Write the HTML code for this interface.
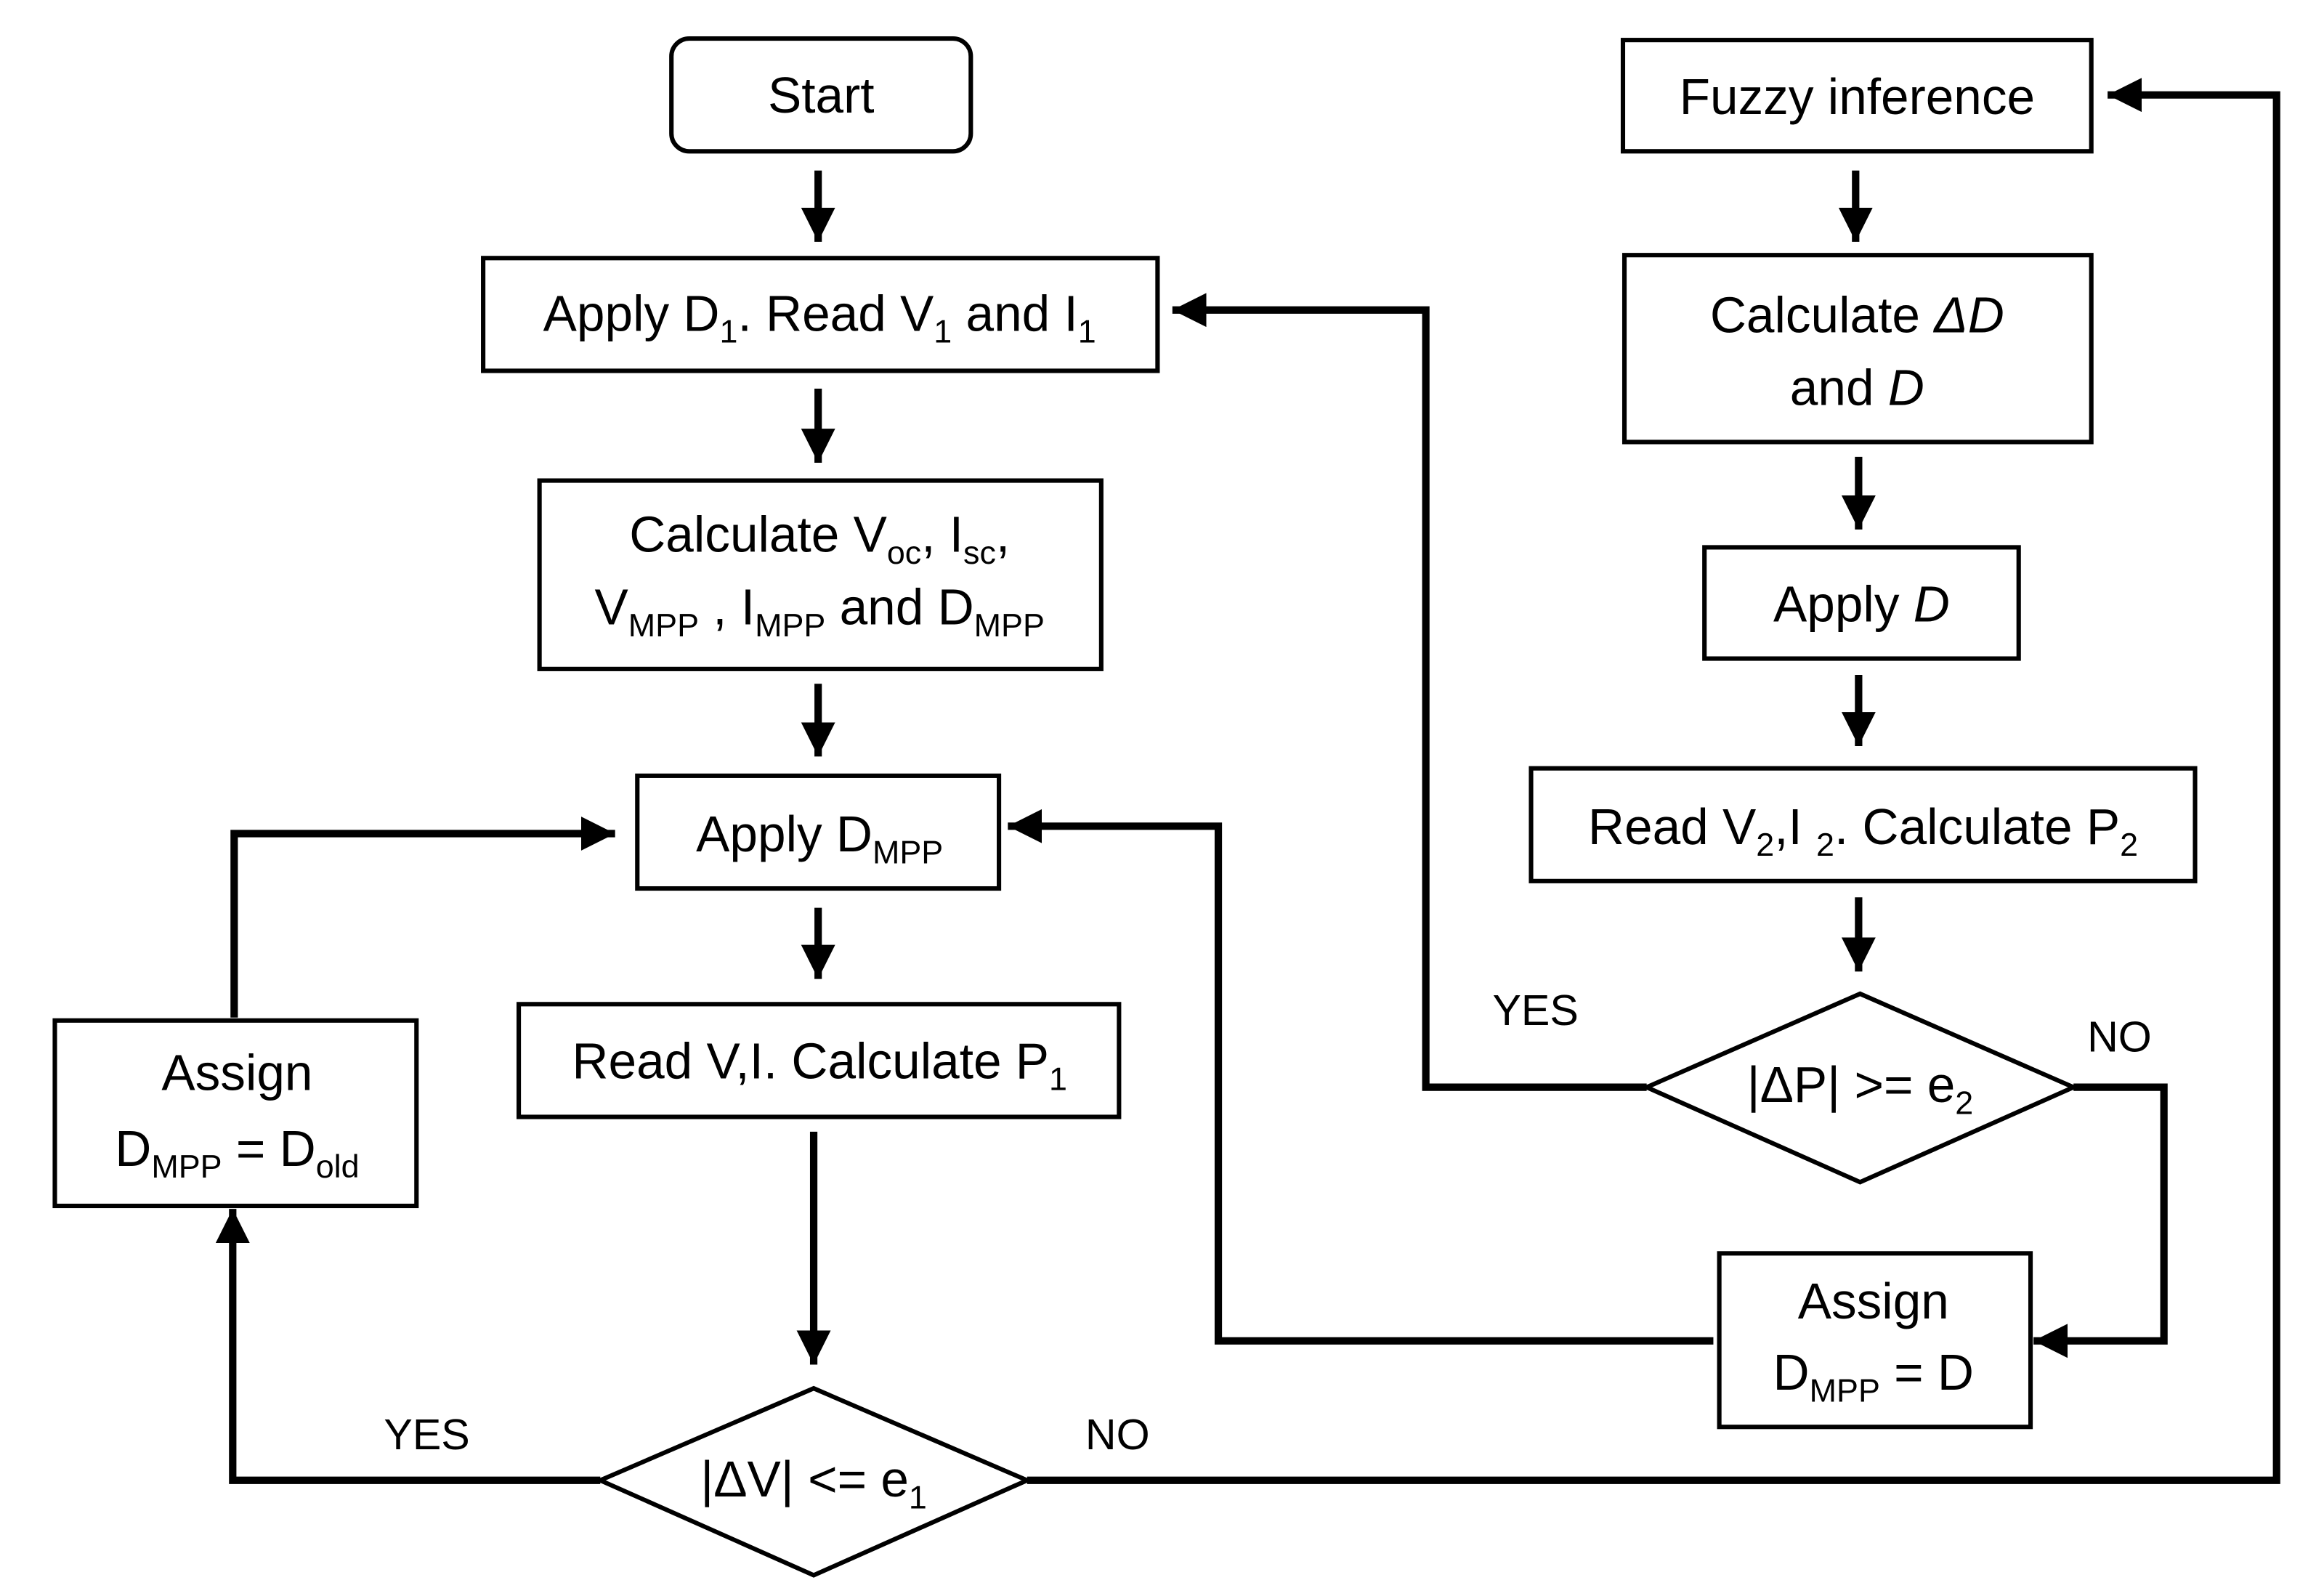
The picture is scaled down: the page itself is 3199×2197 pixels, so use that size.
<!DOCTYPE html>
<html><head><meta charset="utf-8"><style>
html,body{margin:0;padding:0;background:#fff;width:3199px;height:2197px;overflow:hidden}
svg{display:block}
text{font-family:"Liberation Sans",sans-serif;font-size:34px;fill:#000;text-anchor:middle}
.s{font-size:22px}
</style></head><body>
<svg width="3199" height="2197" viewBox="0 0 1568 1076" preserveAspectRatio="none" xmlns="http://www.w3.org/2000/svg">
<defs>
<marker id="a" viewBox="0 0 10 10" refX="10" refY="5" markerWidth="4.6" markerHeight="4.6" markerUnits="strokeWidth" orient="auto">
<path d="M0,0 L10,5 L0,10 z" fill="#000"/></marker>
</defs>
<g fill="none" stroke="#000" stroke-width="3">
<rect x="453" y="26" width="202" height="76" rx="12"/>
<rect x="326" y="174" width="455" height="76"/>
<rect x="364" y="324" width="379" height="127"/>
<rect x="430" y="523" width="244" height="76"/>
<rect x="350" y="677" width="405" height="76"/>
<polygon points="405,998 549,936 693,998 549,1062"/>
<rect x="37" y="688" width="244" height="125"/>
<rect x="1095" y="27" width="316" height="75"/>
<rect x="1096" y="172" width="315" height="126"/>
<rect x="1150" y="369" width="212" height="75"/>
<rect x="1033" y="518" width="448" height="76"/>
<polygon points="1111,733 1255,670 1399,733 1255,797"/>
<rect x="1160" y="845" width="210" height="117"/>
</g>
<g fill="none" stroke="#000" stroke-width="5">
<path d="M552,115 V163" marker-end="url(#a)"/>
<path d="M552,262 V312" marker-end="url(#a)"/>
<path d="M552,461 V510" marker-end="url(#a)"/>
<path d="M552,612 V660" marker-end="url(#a)"/>
<path d="M549,763 V920" marker-end="url(#a)"/>
<path d="M405,998 H157 V815" marker-end="url(#a)"/>
<path d="M158,686 V562 H415" marker-end="url(#a)"/>
<path d="M693,998 H1536 V64 H1422" marker-end="url(#a)"/>
<path d="M1252,115 V163" marker-end="url(#a)"/>
<path d="M1254,308 V357" marker-end="url(#a)"/>
<path d="M1254,455 V503" marker-end="url(#a)"/>
<path d="M1254,605 V655" marker-end="url(#a)"/>
<path d="M1111,733 H962 V209 H791" marker-end="url(#a)"/>
<path d="M1399,733 H1460 V904 H1372" marker-end="url(#a)"/>
<path d="M1156,904 H822 V557 H680" marker-end="url(#a)"/>
</g>
<text x="554" y="76">Start</text>
<text x="553" y="223">Apply D<tspan class="s" dy="8">1</tspan><tspan dy="-8">. Read V</tspan><tspan class="s" dy="8">1</tspan><tspan dy="-8"> and I</tspan><tspan class="s" dy="8">1</tspan></text>
<text x="553" y="372">Calculate V<tspan class="s" dy="8">oc</tspan><tspan dy="-8">, I</tspan><tspan class="s" dy="8">sc</tspan><tspan dy="-8">,</tspan></text>
<text x="553" y="421">V<tspan class="s" dy="8">MPP</tspan><tspan dy="-8"> , I</tspan><tspan class="s" dy="8">MPP</tspan><tspan dy="-8"> and D</tspan><tspan class="s" dy="8">MPP</tspan></text>
<text x="553" y="574">Apply D<tspan class="s" dy="8">MPP</tspan></text>
<text x="553" y="727">Read V,I. Calculate P<tspan class="s" dy="8">1</tspan></text>
<text x="549" y="1009">|ΔV| &lt;= e<tspan class="s" dy="8">1</tspan></text>
<text x="288" y="977" style="font-size:29px">YES</text>
<text x="754" y="977" style="font-size:29px">NO</text>
<text x="160" y="735">Assign</text>
<text x="160" y="786">D<tspan class="s" dy="8">MPP</tspan><tspan dy="-8"> = D</tspan><tspan class="s" dy="8">old</tspan></text>
<text x="1253" y="77">Fuzzy inference</text>
<text x="1253" y="224">Calculate <tspan font-style="italic">ΔD</tspan></text>
<text x="1253" y="273">and <tspan font-style="italic">D</tspan></text>
<text x="1256" y="419">Apply <tspan font-style="italic">D</tspan></text>
<text x="1257" y="569">Read V<tspan class="s" dy="8">2</tspan><tspan dy="-8">,I </tspan><tspan class="s" dy="8">2</tspan><tspan dy="-8">. Calculate P</tspan><tspan class="s" dy="8">2</tspan></text>
<text x="1255" y="743">|ΔP| &gt;= e<tspan class="s" dy="8">2</tspan></text>
<text x="1036" y="691" style="font-size:29px">YES</text>
<text x="1430" y="709" style="font-size:29px">NO</text>
<text x="1264" y="889">Assign</text>
<text x="1264" y="937">D<tspan class="s" dy="8">MPP</tspan><tspan dy="-8"> = D</tspan></text>
</svg>
</body></html>
